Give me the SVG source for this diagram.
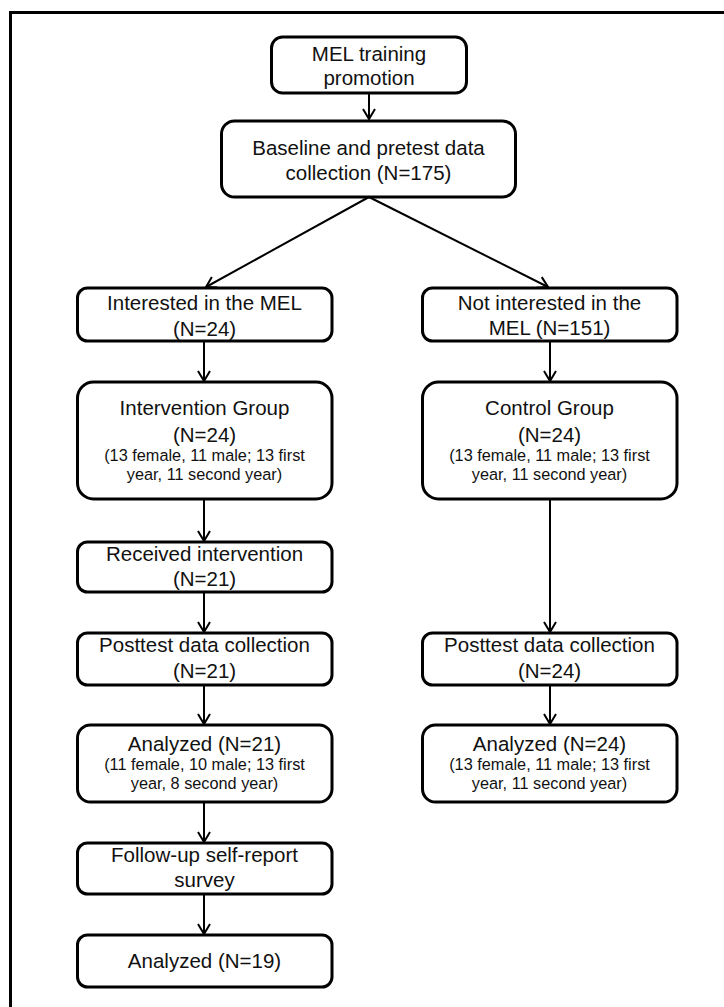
<svg xmlns="http://www.w3.org/2000/svg" width="724" height="1007" viewBox="0 0 724 1007">
<defs>
<style>
.box{fill:#fff;stroke:#000;stroke-width:3}
.t{font-family:"Liberation Sans",Arial,sans-serif;font-size:20.5px;fill:#111;text-anchor:middle}
.s{font-family:"Liberation Sans",Arial,sans-serif;font-size:16.3px;fill:#111;text-anchor:middle}
.c{fill:none;stroke:#000;stroke-width:2}
</style>
<marker id="ah" markerUnits="userSpaceOnUse" viewBox="-12 -8 14 16" refX="0" refY="0" markerWidth="14" markerHeight="16" orient="auto" overflow="visible">
<path d="M-10,-6 L0,0 L-10,6" fill="none" stroke="#000" stroke-width="2"/>
</marker>
</defs>
<rect width="724" height="1007" fill="#fff"/>
<path d="M10.5,1007 V12.5 H724" fill="none" stroke="#000" stroke-width="3"/>

<g id="connectors">
<line class="c" x1="369" y1="93" x2="369" y2="119" marker-end="url(#ah)"/>
<line class="c" x1="369" y1="197" x2="206" y2="287" marker-end="url(#ah)"/>
<line class="c" x1="369" y1="197" x2="548" y2="287" marker-end="url(#ah)"/>
<line class="c" x1="204" y1="341" x2="204" y2="381" marker-end="url(#ah)"/>
<line class="c" x1="204" y1="499" x2="204" y2="541" marker-end="url(#ah)"/>
<line class="c" x1="204" y1="592" x2="204" y2="632" marker-end="url(#ah)"/>
<line class="c" x1="204" y1="685" x2="204" y2="724" marker-end="url(#ah)"/>
<line class="c" x1="204" y1="802" x2="204" y2="842" marker-end="url(#ah)"/>
<line class="c" x1="204" y1="894" x2="204" y2="934" marker-end="url(#ah)"/>
<line class="c" x1="550" y1="341" x2="550" y2="381" marker-end="url(#ah)"/>
<line class="c" x1="550" y1="499" x2="550" y2="632" marker-end="url(#ah)"/>
<line class="c" x1="550" y1="685" x2="550" y2="724" marker-end="url(#ah)"/>
</g>

<g id="n-promotion">
<rect class="box" x="271.5" y="37" width="195" height="56" rx="11"/>
<text class="t" x="369" y="60.5">MEL training</text>
<text class="t" x="369" y="85">promotion</text>
</g>
<g id="n-baseline">
<rect class="box" x="221.5" y="121" width="294" height="76" rx="13"/>
<text class="t" x="368.5" y="155">Baseline and pretest data</text>
<text class="t" x="368.5" y="179.5">collection (N=175)</text>
</g>
<g id="n-interested">
<rect class="box" x="77.5" y="288" width="254.5" height="53" rx="10"/>
<text class="t" x="204.5" y="310">Interested in the MEL</text>
<text class="t" x="204.5" y="335.5">(N=24)</text>
</g>
<g id="n-notinterested">
<rect class="box" x="422.5" y="288" width="254.5" height="53" rx="10"/>
<text class="t" x="549.5" y="310">Not interested in the</text>
<text class="t" x="549.5" y="335">MEL (N=151)</text>
</g>
<g id="n-intervention">
<rect class="box" x="77.5" y="382" width="254.5" height="117" rx="16"/>
<text class="t" x="204.5" y="415">Intervention Group</text>
<text class="t" x="204.5" y="442">(N=24)</text>
<text class="s" x="204.5" y="461">(13 female, 11 male; 13 first</text>
<text class="s" x="204.5" y="480">year, 11 second year)</text>
</g>
<g id="n-control">
<rect class="box" x="422.5" y="382" width="254.5" height="117" rx="16"/>
<text class="t" x="549.5" y="415">Control Group</text>
<text class="t" x="549.5" y="442">(N=24)</text>
<text class="s" x="549.5" y="461">(13 female, 11 male; 13 first</text>
<text class="s" x="549.5" y="480">year, 11 second year)</text>
</g>
<g id="n-received">
<rect class="box" x="77.5" y="542" width="254.5" height="50" rx="10"/>
<text class="t" x="204.5" y="560.5">Received intervention</text>
<text class="t" x="204.5" y="586">(N=21)</text>
</g>
<g id="n-posttest-left">
<rect class="box" x="77.5" y="633" width="254.5" height="52" rx="10"/>
<text class="t" x="204.5" y="652">Posttest data collection</text>
<text class="t" x="204.5" y="678">(N=21)</text>
</g>
<g id="n-posttest-right">
<rect class="box" x="422.5" y="633" width="254.5" height="52" rx="10"/>
<text class="t" x="549.5" y="652">Posttest data collection</text>
<text class="t" x="549.5" y="678">(N=24)</text>
</g>
<g id="n-analyzed-left">
<rect class="box" x="77.5" y="725" width="254.5" height="77" rx="13"/>
<text class="t" x="204.5" y="751">Analyzed (N=21)</text>
<text class="s" x="204.5" y="770">(11 female, 10 male; 13 first</text>
<text class="s" x="204.5" y="789">year, 8 second year)</text>
</g>
<g id="n-analyzed-right">
<rect class="box" x="422.5" y="725" width="254.5" height="77" rx="13"/>
<text class="t" x="549.5" y="751">Analyzed (N=24)</text>
<text class="s" x="549.5" y="770">(13 female, 11 male; 13 first</text>
<text class="s" x="549.5" y="789">year, 11 second year)</text>
</g>
<g id="n-followup">
<rect class="box" x="77.5" y="843" width="254.5" height="51" rx="10"/>
<text class="t" x="204.5" y="862">Follow-up self-report</text>
<text class="t" x="204.5" y="887">survey</text>
</g>
<g id="n-analyzed19">
<rect class="box" x="77.5" y="935" width="254.5" height="52" rx="10"/>
<text class="t" x="204.5" y="967.5">Analyzed (N=19)</text>
</g>
</svg>
